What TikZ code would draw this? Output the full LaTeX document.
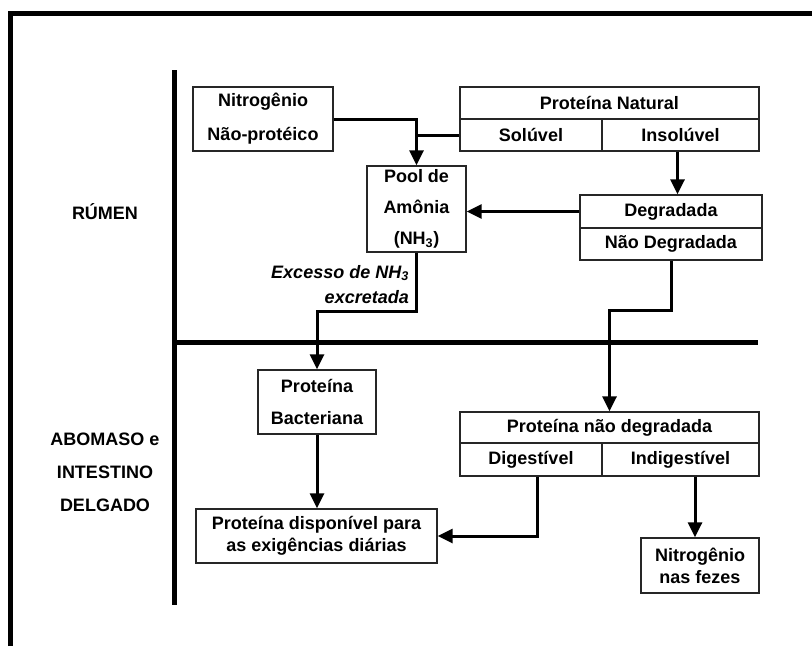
\documentclass[tikz,border=0pt]{standalone}
\usepackage{fontspec}
\setmainfont{Liberation Sans}
\usetikzlibrary{arrows.meta}
\begin{document}
\begin{tikzpicture}[x=1pt,y=-1pt,
  box/.style={draw=black!85,line width=1.3pt,rectangle,inner sep=0pt,align=center,
    font=\fontsize{18}{22}\selectfont\bfseries},
  conn/.style={line width=3pt,line join=miter},
  arr/.style={conn,-{Triangle[length=15pt,width=14pt]}},
  lbl/.style={align=center,inner sep=0pt,font=\fontsize{18}{33}\selectfont\bfseries},
  sep/.style={line width=5pt}]
\useasboundingbox (0,0) rectangle (812,646);
% frame
\draw[sep] (10.5,646) -- (10.5,13.5) -- (812,13.5);
% separators
\coordinate (vtop) at (174,70);
\coordinate (vbot) at (174,605);
\coordinate (hleft) at (174,342);
\coordinate (hright) at (758,342);
\draw[sep] (vtop) -- (vbot);
\draw[sep] (hleft) -- (hright);
% region labels
\node[lbl] (rumen) at (105,212) {RÚMEN};
\node[lbl] (abo) at (105,472) {ABOMASO e\\INTESTINO\\DELGADO};
% boxes
\node[box,minimum width=140pt,minimum height=64pt,font=\fontsize{18}{34}\selectfont\bfseries] (nnp) at (263,119) {Nitrogênio\\Não-protéico};
\node[box,minimum width=299pt,minimum height=32pt] (pnat) at (609.5,103) {Proteína Natural};
\node[box,minimum width=142pt,minimum height=32pt] (sol) at (531,135) {Solúvel};
\node[box,minimum width=157pt,minimum height=32pt] (insol) at (680.5,135) {Insolúvel};
\node[box,minimum width=99pt,minimum height=86pt,font=\fontsize{18}{31}\selectfont\bfseries] (pool) at (416.5,209) {Pool de\\Amônia\\(NH\textsubscript{3})};
\node[box,minimum width=182pt,minimum height=33pt] (deg) at (671,211.5) {Degradada};
\node[box,minimum width=182pt,minimum height=32pt] (ndeg) at (671,244) {Não Degradada};
\node[box,minimum width=118pt,minimum height=64pt,font=\fontsize{18}{32}\selectfont\bfseries] (bact) at (317,402) {Proteína\\Bacteriana};
\node[box,minimum width=241pt,minimum height=54pt] (disp) at (316.5,536) {Proteína disponível para\\as exigências diárias};
\node[box,minimum width=299pt,minimum height=31pt] (pnd) at (609.5,427.5) {Proteína não degradada};
\node[box,minimum width=142pt,minimum height=33pt] (dig) at (531,459.5) {Digestível};
\node[box,minimum width=157pt,minimum height=33pt] (indig) at (680.5,459.5) {Indigestível};
\node[box,minimum width=118pt,minimum height=55pt] (fezes) at (700,565.5) {Nitrogênio\\nas fezes};
% label on connector
\node[anchor=east,inner sep=0pt,font=\fontsize{18}{22}\selectfont\bfseries\itshape] (exc1) at (409,273) {Excesso de NH\textsubscript{3}};
\node[anchor=east,inner sep=0pt,font=\fontsize{18}{22}\selectfont\bfseries\itshape] (exc2) at (409,297) {excretada};
% connectors
\draw[arr] (nnp.east) -| (pool.north);
\draw[conn] (sol.west) -- (sol.west -| pool.north);
\draw[arr] ([xshift=-3pt]insol.south) -- ([xshift=-3pt]insol.south |- deg.north);
\draw[arr] (deg.west) -- (deg.west -| pool.east);
\draw[arr] (ndeg.south) -- ++(0,50) -| (pnd.north);
\draw[arr] (pool.south) -- ++(0,59) -| (bact.north);
\draw[arr] (bact.south) -- (bact.south |- disp.north);
\draw[arr] ([xshift=6pt]dig.south) |- (disp.east);
\draw[arr] ([xshift=-5pt]fezes.north |- indig.south) -- ([xshift=-5pt]fezes.north);
\end{tikzpicture}
\end{document}
